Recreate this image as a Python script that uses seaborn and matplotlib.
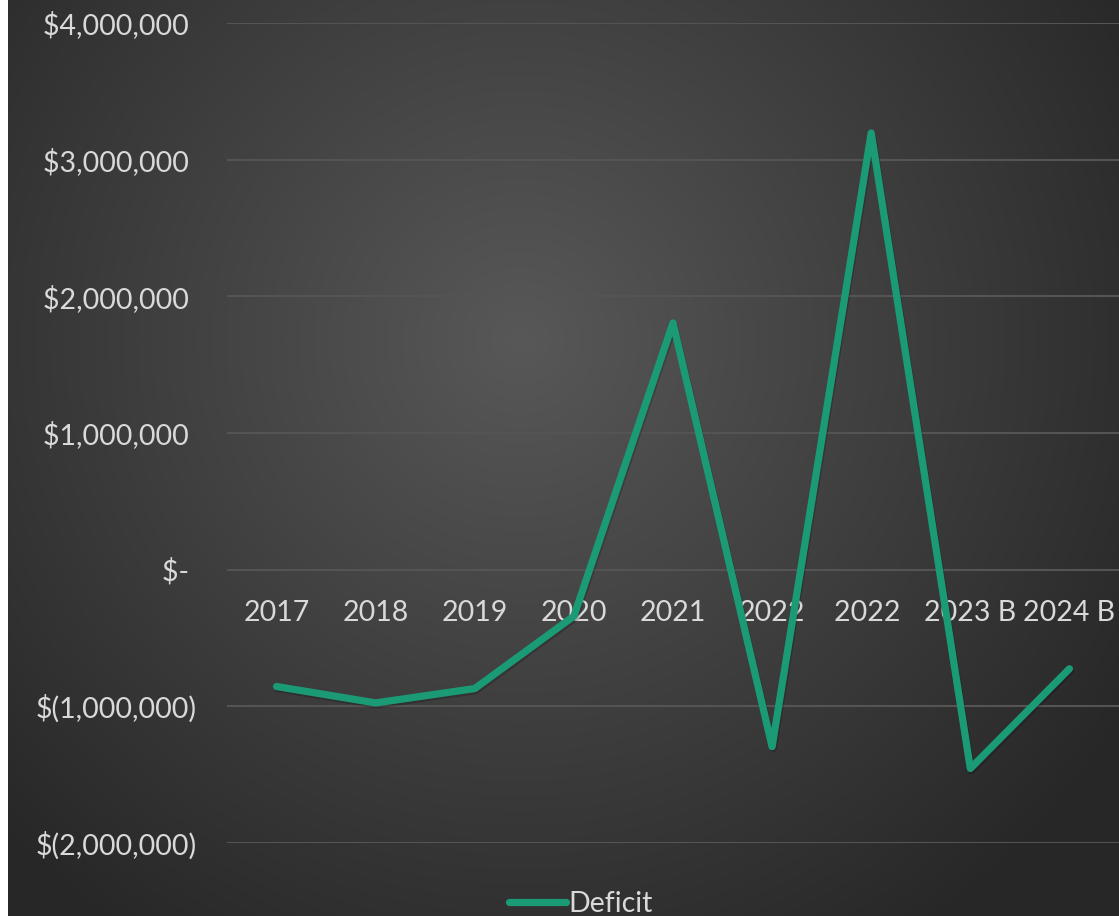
import numpy as np
import pandas as pd
import matplotlib
matplotlib.use("Agg")
import matplotlib.pyplot as plt
import matplotlib.patheffects as pe
from matplotlib.lines import Line2D
import seaborn as sns

categories = ["2017", "2018", "2019", "2020", "2021", "2022", "2022 ", "2023 B", "2024 B"]
deficit = [-855000, -975000, -870000, -340000, 1805000, -1295000, 3195000, -1455000, -725000]
y_ticks = [-2000000, -1000000, 0, 1000000, 2000000, 3000000, 4000000]
y_tick_labels = ["$(2,000,000)", "$(1,000,000)", "$- ", "$1,000,000 ",
                 "$2,000,000 ", "$3,000,000 ", "$4,000,000 "]

df = pd.DataFrame({"Year": categories, "Deficit": deficit, "pos": np.arange(len(categories))})

sns.set_theme(style="dark")
plt.rcParams["font.family"] = ["Lato", "DejaVu Sans"]

W, H, DPI = 1119, 916, 100
fig = plt.figure(figsize=(W / DPI, H / DPI), dpi=DPI, facecolor="white")

# radial gradient background
bg = fig.add_axes([8 / W, 0, 1 - 8 / W, 1], zorder=-10)
yy, xx = np.mgrid[0:H, 8:W]
cx, cy = 520, 340
d = np.sqrt((xx - cx) ** 2 + (yy - cy) ** 2) / 720.0
d = np.clip(d, 0, 1)
inner = np.array([0x58, 0x58, 0x58]) / 255
outer = np.array([0x27, 0x27, 0x27]) / 255
img = inner[None, None, :] * (1 - d[..., None]) + outer[None, None, :] * d[..., None]
bg.imshow(img, aspect="auto", extent=[0, 1, 0, 1], origin="upper")
bg.set_axis_off()

left = 227 / W
top = 1 - 23 / H
bottom = 1 - 843 / H
ax = fig.add_axes([left, bottom, 1 - left, top - bottom])
ax.set_facecolor("none")

sns.lineplot(data=df, x="pos", y="Deficit", ax=ax, color="#1a9b76", linewidth=5.2,
             label="Deficit", legend=False)
line = ax.lines[0]
line.set_solid_capstyle("round")
line.set_solid_joinstyle("round")
line.set_path_effects([pe.SimpleLineShadow(offset=(0.8, -1.5), alpha=0.2, shadow_color="black"),
                       pe.Normal()])

ax.set_xlim(-0.5, len(categories) - 0.5)
ax.set_ylim(-2000000, 4000000)
ax.set_yticks(y_ticks)
ax.set_yticklabels(y_tick_labels)
ax.set_xticks(df["pos"])
ax.set_xticklabels(categories)
ax.set_xlabel("")
ax.set_ylabel("")

for s in ["left", "right", "top"]:
    ax.spines[s].set_visible(False)
ax.spines["bottom"].set_position(("data", 0))
ax.spines["bottom"].set_color("none")

ax.grid(False)
ax.yaxis.grid(True, color="#545454", linewidth=1.5)
ax.set_axisbelow(True)
ax.tick_params(axis="y", length=0, pad=22, labelsize=20.5, labelcolor="#d9d9d9")
ax.tick_params(axis="x", length=0, pad=22, labelsize=20.5, labelcolor="#d9d9d9")

h = Line2D([0], [0], color="#1a9b76", linewidth=5.2, solid_capstyle="round")
leg = fig.legend([h], ["Deficit"], loc="center", bbox_to_anchor=((510 + 652) / 2 / W, 12 / H),
                 frameon=False, fontsize=20.5, handlelength=2.0, handletextpad=0.1,
                 labelcolor="#d9d9d9", borderaxespad=0, borderpad=0)

fig.savefig("out.png", dpi=DPI, facecolor=fig.get_facecolor())
